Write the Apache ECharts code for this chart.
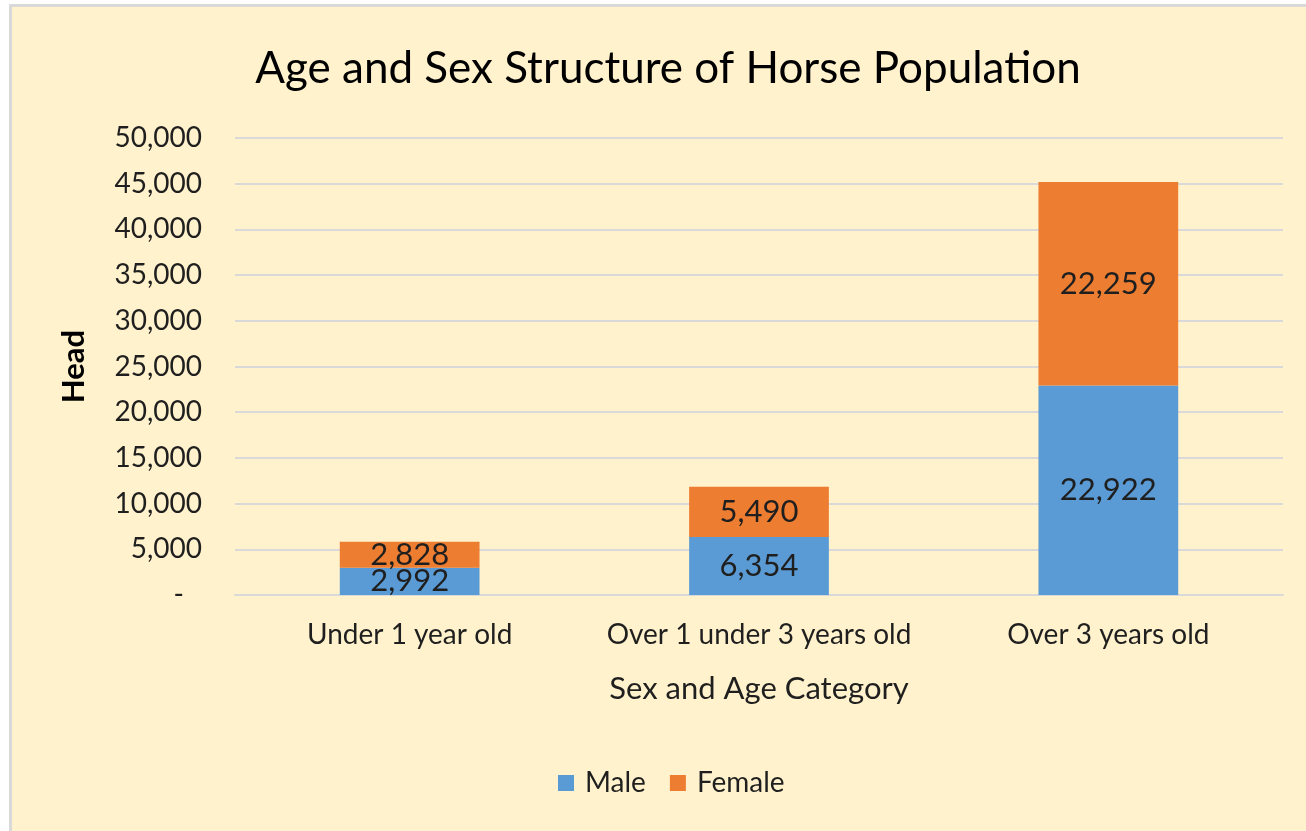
<!DOCTYPE html>
<html>
<head>
<meta charset="utf-8">
<script src="https://cdn.jsdelivr.net/npm/echarts@6/dist/echarts.min.js"></script>
<style>
html,body{margin:0;padding:0;background:#fff;}
#frame{position:absolute;left:9px;top:4px;width:1297px;height:827px;background:#FFF2CC;border-left:3px solid #D9D9D9;border-top:3px solid #D9D9D9;box-sizing:border-box;}
#chart{position:absolute;left:0;top:0;width:1306px;height:831px;}
</style>
</head>
<body>
<div id="frame"></div>
<div id="chart"></div>
<script>
const categories = ['Under 1 year old', 'Over 1 under 3 years old', 'Over 3 years old'];
const maleValues = [2992, 6354, 22922];
const femaleValues = [2828, 5490, 22259];
const seriesNames = ['Male', 'Female'];
const yTicks = [0, 5000, 10000, 15000, 20000, 25000, 30000, 35000, 40000, 45000, 50000];

const FONT = 'Lato';
const TXT = '#1f1f1f';
function fmt(v){ return v.toLocaleString('en-US'); }

const chart = echarts.init(document.getElementById('chart'), null, {renderer:'canvas'});
chart.setOption({
  backgroundColor: 'transparent',
  animation: false,
  title: {
    text: 'Age and Sex Structure of Horse Population',
    left: 663, top: 42, textAlign: 'center',
    textStyle: {fontFamily: FONT, fontSize: 44, fontWeight: 'normal', color: '#000'}
  },
  legend: {
    data: seriesNames,
    left: 553, top: 764,
    itemWidth: 16, itemHeight: 16, itemGap: 24,
    icon: 'rect',
    textStyle: {fontFamily: FONT, fontSize: 28, color: TXT, padding: [0, 0, 0, 6]}
  },
  grid: {left: 235, right: 23, top: 138, bottom: 236},
  xAxis: {
    type: 'category',
    data: categories,
    name: 'Sex and Age Category',
    nameLocation: 'middle',
    nameGap: 78,
    nameTextStyle: {fontFamily: FONT, fontSize: 31, color: TXT},
    axisLine: {show: true, lineStyle: {color: '#D9D9D9', width: 2}},
    axisTick: {show: false},
    axisLabel: {fontFamily: FONT, fontSize: 28, color: TXT, margin: 26, interval: 0, hideOverlap: false}
  },
  yAxis: {
    type: 'value',
    min: yTicks[0], max: yTicks[yTicks.length-1], interval: 5000,
    name: 'Head',
    nameLocation: 'middle',
    nameGap: 146,
    nameTextStyle: {fontFamily: FONT, fontSize: 31, fontWeight: 'bold', color: '#000'},
    axisLine: {show: false},
    axisTick: {show: false},
    splitLine: {lineStyle: {color: '#D9D9D9', width: 2}},
    axisLabel: {
      fontFamily: FONT, fontSize: 28, color: TXT, margin: 33,
      formatter: function(v){ return v === 0 ? '{z|-}' : fmt(v); },
      rich: {z: {fontFamily: FONT, fontSize: 28, color: TXT, padding: [0, 18, 0, 0]}}
    }
  },
  series: [
    {
      name: seriesNames[0], type: 'bar', stack: 'total', data: maleValues,
      barWidth: '40%',
      itemStyle: {color: '#5B9BD5'},
      label: {show: true, position: 'inside', fontFamily: FONT, fontSize: 31, color: TXT,
        formatter: p => fmt(p.value)}
    },
    {
      name: seriesNames[1], type: 'bar', stack: 'total', data: femaleValues,
      barWidth: '40%',
      itemStyle: {color: '#ED7D31'},
      label: {show: true, position: 'inside', fontFamily: FONT, fontSize: 31, color: TXT,
        formatter: p => fmt(p.value)}
    }
  ]
});
</script>
</body>
</html>
